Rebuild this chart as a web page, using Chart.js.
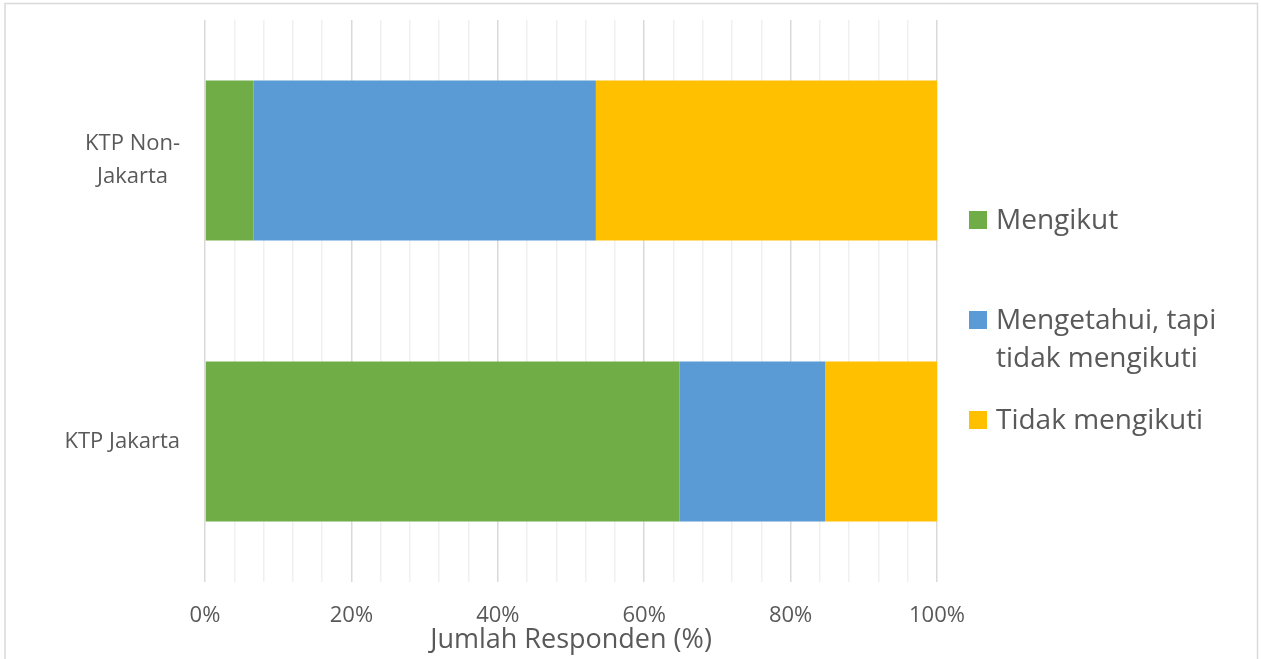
<!DOCTYPE html>
<html>
<head>
<meta charset="utf-8">
<script src="https://cdn.jsdelivr.net/npm/chart.js@4/dist/chart.umd.min.js"></script>
<style>
  html, body { margin: 0; padding: 0; background: #fff; }
  #wrap { width: 1261px; height: 659px; }
</style>
</head>
<body>
<div id="wrap"><canvas id="c" width="1261" height="659"></canvas></div>
<script>
// Respondent groups (top to bottom) and their share per answer, in percent
const categories = [['KTP Non-', 'Jakarta'], 'KTP Jakarta'];
const seriesNames = ['Mengikut', 'Mengetahui, tapi tidak mengikuti', 'Tidak mengikuti'];
const mengikut = [6.6, 64.8];
const mengetahuiTidakMengikuti = [46.8, 19.9];
const tidakMengikuti = [46.6, 15.3];
const axisTitle = 'Jumlah Responden (%)';

const COLORS = ['#70AD47', '#5B9BD5', '#FFC000'];
const TEXT = '#595959';
const FONT = '"Open Sans", "Noto Sans", sans-serif';

// Frame around the whole figure and white background
const framePlugin = {
  id: 'frame',
  beforeDraw(chart) {
    const ctx = chart.ctx;
    ctx.save();
    ctx.fillStyle = '#ffffff';
    ctx.fillRect(0, 0, chart.width, chart.height);
    ctx.strokeStyle = '#d9d9d9';
    ctx.lineWidth = 1.5;
    ctx.strokeRect(5, 3.5, 1252.5, chart.height + 20);
    ctx.restore();
  }
};

// Category labels: each block ends at the same right edge, lines centred inside the block
const categoryLabels = {
  id: 'categoryLabels',
  afterDraw(chart) {
    const ctx = chart.ctx;
    const y = chart.scales.y;
    const rightEdge = y.right - 25;
    const lineH = 33;
    ctx.save();
    ctx.font = '22px ' + FONT;
    ctx.fillStyle = TEXT;
    ctx.textAlign = 'center';
    ctx.textBaseline = 'middle';
    chart.data.labels.forEach((lab, i) => {
      const lines = Array.isArray(lab) ? lab : [lab];
      const w = Math.max(...lines.map(l => ctx.measureText(l).width));
      const cx = rightEdge - w / 2;
      const cy = y.getPixelForTick(i);
      lines.forEach((ln, k) => {
        ctx.fillText(ln, cx, cy + (k - (lines.length - 1) / 2) * lineH);
      });
    });
    ctx.restore();
  }
};

// Legend on the right, with wrapped labels
const sideLegend = {
  id: 'sideLegend',
  afterDraw(chart) {
    const ctx = chart.ctx;
    ctx.save();
    ctx.font = '28px ' + FONT;
    ctx.textBaseline = 'middle';
    ctx.textAlign = 'left';
    const boxX = 969, textX = 996, box = 18, maxW = 250, lineH = 38;
    chart.data.datasets.forEach((ds, i) => {
      const cy = 220 + i * 100;
      ctx.fillStyle = ds.backgroundColor;
      ctx.fillRect(boxX, cy - box / 2, box, box);
      // wrap words into lines that fit maxW
      const words = ds.label.split(' ');
      const lines = [];
      let cur = '';
      words.forEach(w => {
        const t = cur ? cur + ' ' + w : w;
        if (ctx.measureText(t).width > maxW && cur) { lines.push(cur); cur = w; }
        else cur = t;
      });
      if (cur) lines.push(cur);
      ctx.fillStyle = TEXT;
      lines.forEach((ln, k) => ctx.fillText(ln, textX, cy + k * lineH + 1));
    });
    ctx.restore();
  }
};

const data = {
  labels: categories,
  datasets: [mengikut, mengetahuiTidakMengikuti, tidakMengikuti].map((vals, i) => ({
    label: seriesNames[i],
    data: vals,
    backgroundColor: COLORS[i],
    borderWidth: 0,
    barPercentage: 0.57,
    categoryPercentage: 1.0
  }))
};

new Chart(document.getElementById('c'), {
  type: 'bar',
  data,
  plugins: [framePlugin, categoryLabels, sideLegend],
  options: {
    indexAxis: 'y',
    responsive: false,
    animation: false,
    layout: { padding: { left: 5, right: 324, top: 20, bottom: 0 } },
    plugins: { legend: { display: false }, tooltip: { enabled: false } },
    scales: {
      x: {
        stacked: true,
        min: 0,
        max: 100,
        afterFit(s) { s.height = 77; },
        border: { display: false },
        grid: {
          drawTicks: false,
          lineWidth: 1.5,
          color: c => (c.tick && c.tick.value % 20 === 0) ? '#d9d9d9' : '#f0f0f0'
        },
        ticks: {
          stepSize: 4,
          autoSkip: false,
          maxRotation: 0,
          padding: 21,
          color: TEXT,
          font: { family: FONT, size: 22 },
          callback: v => (v % 20 === 0 ? v + '%' : '')
        },
        title: {
          display: true,
          text: axisTitle,
          color: TEXT,
          font: { family: FONT, size: 27 },
          padding: { top: 0, bottom: 2 }
        }
      },
      y: {
        stacked: true,
        afterFit(s) { s.width = 200; s.paddingTop = 0; s.paddingBottom = 0; },
        border: { display: false },
        grid: { display: false, drawTicks: false },
        ticks: { display: false }
      }
    }
  }
});
</script>
</body>
</html>
